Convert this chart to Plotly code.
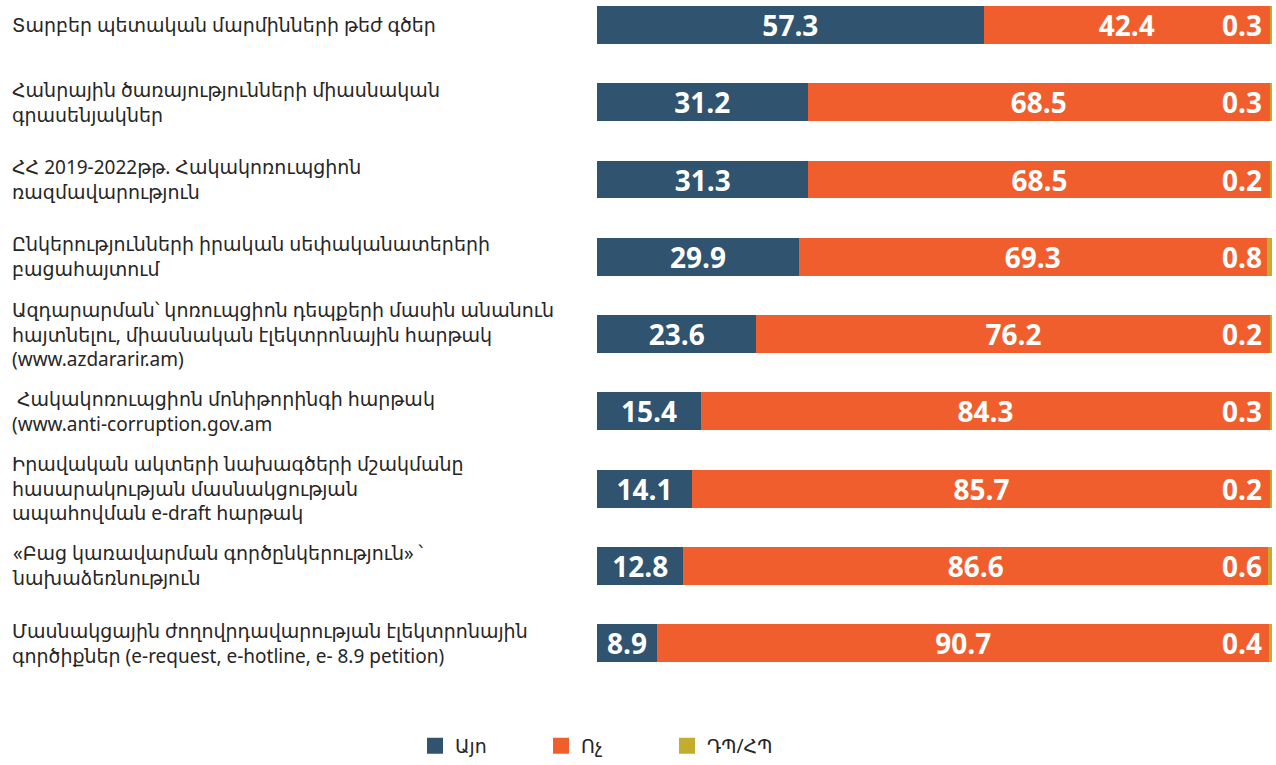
import plotly.graph_objects as go

categories = [
    "Տարբեր պետական մարմինների թեժ գծեր",
    "Հանրային ծառայությունների միասնական<br>գրասենյակներ",
    "ՀՀ 2019-2022թթ. Հակակոռուպցիոն<br>ռազմավարություն",
    "Ընկերությունների իրական սեփականատերերի<br>բացահայտում",
    "Ազդարարման՝ կոռուպցիոն դեպքերի մասին անանուն<br>հայտնելու, միասնական էլեկտրոնային հարթակ<br>(www.azdararir.am)",
    "\u00a0Հակակոռուպցիոն մոնիթորինգի հարթակ<br>(www.anti-corruption.gov.am",
    "Իրավական ակտերի նախագծերի մշակմանը<br>հասարակության մասնակցության<br>ապահովման e-draft հարթակ",
    "«Բաց կառավարման գործընկերություն» ՝<br>նախաձեռնություն",
    "Մասնակցային ժողովրդավարության էլեկտրոնային<br>գործիքներ (e-request, e-hotline, e- 8.9 petition)",
]
series_names = ["Այո", "Ոչ", "ԴՊ/ՀՊ"]
yes_vals = [57.3, 31.2, 31.3, 29.9, 23.6, 15.4, 14.1, 12.8, 8.9]
no_vals = [42.4, 68.5, 68.5, 69.3, 76.2, 84.3, 85.7, 86.6, 90.7]
dk_vals = [0.3, 0.3, 0.2, 0.8, 0.2, 0.3, 0.2, 0.6, 0.4]

colors = ["#30536F", "#F15E2D", "#C4AC2C"]
label_font = "Noto Sans, DejaVu Sans, sans-serif"
value_font = dict(family="Open Sans, Noto Sans, sans-serif", size=28, color="white", weight="bold")

ids = list(range(len(categories)))

fig = go.Figure()
for name, vals, col, show_text in [
    (series_names[0], yes_vals, colors[0], True),
    (series_names[1], no_vals, colors[1], True),
    (series_names[2], dk_vals, colors[2], False),
]:
    fig.add_trace(go.Bar(
        y=ids, x=vals, name=name, orientation="h",
        marker=dict(color=col, line=dict(width=0)),
        width=0.49,
        text=[f"{v:.1f}" for v in vals] if show_text else None,
        textposition="inside" if show_text else "none",
        insidetextanchor="middle",
        textangle=0,
        textfont=value_font,
        hoverinfo="x+name",
        showlegend=False,
        legendgroup=name,
    ))

# legend entries with larger square swatches
for name, col in zip(series_names, colors):
    fig.add_trace(go.Scatter(
        x=[None], y=[None], mode="markers", name=name, legendgroup=name,
        marker=dict(symbol="square", size=18, color=col),
        showlegend=True,
    ))

annotations = []
for i, cat in enumerate(categories):
    annotations.append(dict(
        x=-0.8696, xref="paper", y=i, yref="y",
        text=cat, showarrow=False, xanchor="left", yanchor="middle", align="left",
        font=dict(family=label_font, size=19, color="#262626"),
    ))
for i in ids:
    total = round(yes_vals[i] + no_vals[i] + dk_vals[i], 1)
    annotations.append(dict(
        x=total, xref="x", y=i, yref="y",
        text=f"{dk_vals[i]:.1f}", showarrow=False, xanchor="right", yanchor="middle",
        xshift=-8, font=value_font,
    ))

fig.update_layout(
    barmode="stack",
    width=1276, height=765,
    margin=dict(l=597, r=4, t=0, b=75),
    paper_bgcolor="white", plot_bgcolor="white",
    xaxis=dict(range=[0, 100.01], visible=False, fixedrange=True),
    yaxis=dict(range=[8.58, -0.323], visible=False, fixedrange=True),
    uniformtext=dict(minsize=28, mode="show"),
    showlegend=True,
    legend=dict(
        orientation="h", x=-0.2696, xanchor="left", y=-0.084, yanchor="middle",
        font=dict(family=label_font, size=19, color="#262626"),
        entrywidth=81, entrywidthmode="pixels",
        traceorder="normal",
    ),
    annotations=annotations,
)

fig.write_html(
    "out.html",
    config={"displayModeBar": False},
    post_script="document.body.style.margin='0';document.body.style.overflow='hidden';",
)
